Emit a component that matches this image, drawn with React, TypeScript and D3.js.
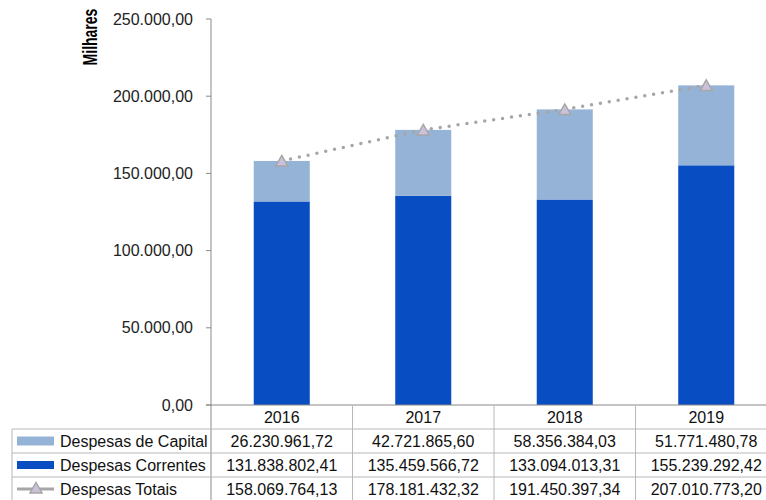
import React from "react";
import * as d3 from "d3";

const years = ["2016", "2017", "2018", "2019"];
const capital = [26230.96172, 42721.8656, 58356.38403, 51771.48078];
const correntes = [131838.80241, 135459.56672, 133094.01331, 155239.29242];
const totais = [158069.76413, 178181.43232, 191450.39734, 207010.7732];
const capitalLabels = ["26.230.961,72", "42.721.865,60", "58.356.384,03", "51.771.480,78"];
const correntesLabels = ["131.838.802,41", "135.459.566,72", "133.094.013,31", "155.239.292,42"];
const totaisLabels = ["158.069.764,13", "178.181.432,32", "191.450.397,34", "207.010.773,20"];
const yTicks = [0, 50000, 100000, 150000, 200000, 250000];
const seriesNames = ["Despesas de Capital", "Despesas Correntes", "Despesas Totais"];

const W = 766;
const H = 500;
const FONT = "'Liberation Sans', Arial, sans-serif";
const C_LIGHT = "#95b3d7";
const C_DARK = "#084ec2";
const C_LINE = "#a6a6a6";
const C_TRI = "#ccc1da";
const C_AXIS = "#898989";
const C_GRID = "#b8b8b8";

const fmtTick = (v: number) => {
  const s = d3.format(",.2f")(v);
  return s.replace(/,/g, "#").replace(/\./g, ",").replace(/#/g, ".");
};

export default function App() {
  const x0 = 211;
  const x1 = 777;
  const yTop = 19;
  const yBot = 405;
  const x = d3.scaleBand<string>().domain(years).range([x0, x1]).padding(0);
  const y = d3.scaleLinear().domain([0, 250000]).range([yBot, yTop]);
  const bw = x.bandwidth() * 0.396;
  const cx = (yr: string) => (x(yr) as number) + x.bandwidth() / 2;

  const line = d3
    .line<number>()
    .x((_, i) => cx(years[i]))
    .y((d) => y(d));

  const rowTop = 429;
  const rowH = 24;
  const rows = [
    { name: seriesNames[0], labels: capitalLabels },
    { name: seriesNames[1], labels: correntesLabels },
    { name: seriesNames[2], labels: totaisLabels },
  ];

  const tri = (px: number, py: number) => {
    const s = 6;
    return `M${px},${py - 5.5}L${px + s},${py + 5}L${px - s},${py + 5}Z`;
  };

  return (
    <svg
      width={W}
      height={H}
      style={{ position: "absolute", left: 0, top: 0, background: "#fff" }}
      fontFamily={FONT}
    >
      {/* Y axis label */}
      <text
        transform={`translate(97,37) rotate(-90) scale(1,1.38)`}
        textAnchor="middle"
        fontSize={14}
        fontWeight="bold"
        fill="#000"
      >
        Milhares
      </text>

      {/* Y ticks */}
      {yTicks.map((t) => (
        <g key={t}>
          <line x1={x0 - 5} x2={x0} y1={y(t)} y2={y(t)} stroke={C_AXIS} strokeWidth={1} />
          <text x={193} y={y(t)} dy="0.35em" textAnchor="end" fontSize={16} fill="#222">
            {fmtTick(t)}
          </text>
        </g>
      ))}

      {/* Bars */}
      {years.map((yr, i) => (
        <g key={yr}>
          <rect x={cx(yr) - bw / 2} y={y(correntes[i])} width={bw} height={yBot - y(correntes[i])} fill={C_DARK} />
          <rect
            x={cx(yr) - bw / 2}
            y={y(correntes[i] + capital[i])}
            width={bw}
            height={y(correntes[i]) - y(correntes[i] + capital[i])}
            fill={C_LIGHT}
          />
        </g>
      ))}

      {/* Line */}
      <path
        d={line(totais) || ""}
        fill="none"
        stroke={C_LINE}
        strokeWidth={3.5}
        strokeDasharray="0 9"
        strokeLinecap="round"
      />
      {years.map((yr, i) => (
        <path key={yr} d={tri(cx(yr), y(totais[i]))} fill={C_TRI} stroke={C_LINE} strokeWidth={1.5} />
      ))}

      {/* Axis lines */}
      <line x1={x0} x2={x0} y1={yTop} y2={H} stroke={C_AXIS} strokeWidth={1} />
      <line x1={x0 - 5} x2={x1} y1={yBot} y2={yBot} stroke={C_AXIS} strokeWidth={1} />

      {/* Table grid */}
      {years.slice(1).map((yr) => (
        <line key={yr} x1={x(yr) as number} x2={x(yr) as number} y1={yBot} y2={H} stroke={C_GRID} strokeWidth={1} />
      ))}
      <line x1={12} x2={12} y1={rowTop} y2={H} stroke={C_GRID} strokeWidth={1} />
      {[0, 1, 2].map((r) => (
        <line key={r} x1={12} x2={x1} y1={rowTop + r * rowH} y2={rowTop + r * rowH} stroke={C_GRID} strokeWidth={1} />
      ))}

      {/* Year header */}
      {years.map((yr) => (
        <text key={yr} x={cx(yr)} y={417} dy="0.35em" textAnchor="middle" fontSize={16} fill="#111">
          {yr}
        </text>
      ))}

      {/* Rows */}
      {rows.map((row, r) => {
        const cy = rowTop + r * rowH + rowH / 2;
        return (
          <g key={row.name}>
            {r === 0 && <rect x={17} y={cy - 4.5} width={37} height={9} fill={C_LIGHT} />}
            {r === 1 && <rect x={17} y={cy - 4} width={37} height={8} fill={C_DARK} />}
            {r === 2 && (
              <g>
                <line x1={17} x2={54} y1={cy} y2={cy} stroke={C_LINE} strokeWidth={3} />
                <path d={tri(36, cy - 1)} fill={C_TRI} stroke={C_LINE} strokeWidth={1.5} />
              </g>
            )}
            <text x={60} y={cy} dy="0.35em" fontSize={16} fill="#111">
              {row.name}
            </text>
            {years.map((yr, i) => (
              <text key={yr} x={cx(yr)} y={cy} dy="0.35em" textAnchor="middle" fontSize={16} fill="#111">
                {row.labels[i]}
              </text>
            ))}
          </g>
        );
      })}
    </svg>
  );
}
